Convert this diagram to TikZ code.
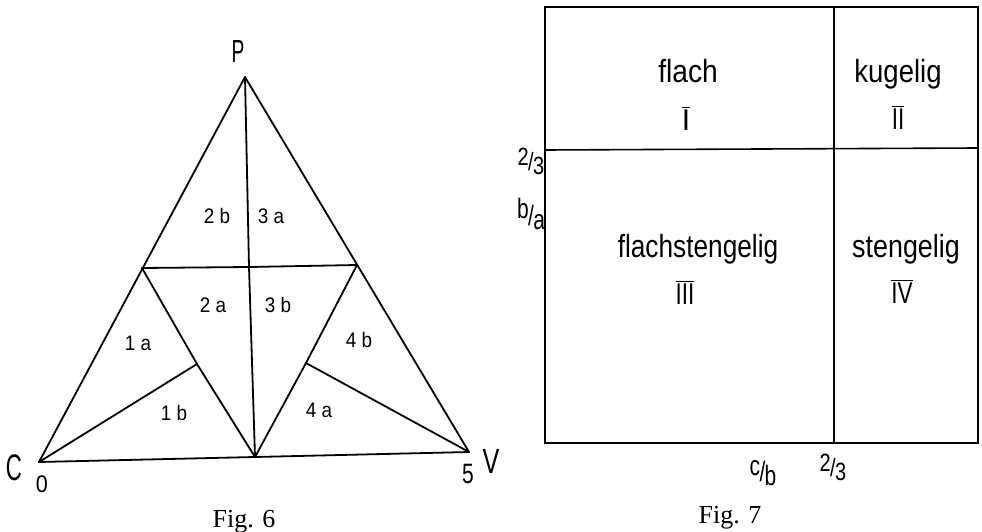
\documentclass[tikz,border=0pt]{standalone}
\usepackage{fontspec}
\usepackage{graphicx}
\setmainfont{Liberation Serif}
\newfontfamily\lett{Liberation Sans}
\newcommand\hsc[2]{\scalebox{#1}[1]{#2}}
\newcommand\slfrac[3]{\raisebox{#3}{#1}\kern-0.03em/\kern-0.03em\raisebox{-0.14em}{#2}}
\newcommand\rnum[1]{\setbox0\hbox{#1}\vbox{\hrule width\wd0 height 1.2pt\kern1.6pt\box0\kern1.6pt\hrule width\wd0 height 1.2pt}}
\begin{document}
\begin{tikzpicture}[x=1pt,y=-1pt,
  tri/.style={line width=1.8pt, line join=round, line cap=round},
  boxl/.style={line width=1.6pt},
  reg/.style={font=\lett\fontsize{21}{21}\selectfont, inner sep=0pt, anchor=base},
  word/.style={font=\lett\fontsize{32}{32}\selectfont, inner sep=0pt, anchor=base},
  rn/.style={font=\lett\fontsize{30}{30}\selectfont, inner sep=0pt},
  frac/.style={font=\lett\fontsize{25}{25}\selectfont, inner sep=0pt},
  vert/.style={inner sep=0pt, anchor=base},
  caption/.style={font=\fontsize{26}{26}\selectfont, inner sep=0pt, anchor=base}]
\useasboundingbox (0,0) rectangle (982,532);
% ---------- Fig. 6 ----------
\coordinate (C) at (39,462);
\coordinate (P) at (245,77);
\coordinate (V) at (469,452);
\coordinate (M) at (255,457);
\coordinate (L) at (142,268);
\coordinate (R) at (357,265);
\coordinate (O) at (249,267);
\coordinate (IL) at (197,364);
\coordinate (IR) at (306,363);
\draw[tri] (C) -- (P) -- (V) -- (M) -- cycle;
\draw[tri] (P) -- (O) -- (M);
\draw[tri] (L) -- (O) -- (R);
\draw[tri] (L) -- (IL) -- (M) -- (IR) -- (R);
\draw[tri] (C) -- (IL);
\draw[tri] (V) -- (IR);
\node[reg] (r2b) at (217,223) {\hsc{0.9}{2 b}};
\node[reg] (r3a) at (271,223) {\hsc{0.9}{3 a}};
\node[reg] (r2a) at (213,312) {\hsc{0.9}{2 a}};
\node[reg] (r3b) at (278,312) {\hsc{0.9}{3 b}};
\node[reg] (r1a) at (138,350) {\hsc{0.9}{1 a}};
\node[reg] (r4b) at (359,347) {\hsc{0.9}{4 b}};
\node[reg] (r1b) at (174,420) {\hsc{0.9}{1 b}};
\node[reg] (r4a) at (319,417) {\hsc{0.9}{4 a}};
\node[vert, font=\lett\fontsize{32}{32}\selectfont] (lP) at (238,63) {\hsc{0.6}{P}};
\node[vert, font=\lett\fontsize{37}{37}\selectfont] (lC) at (14,480) {\hsc{0.6}{C}};
\node[vert, font=\lett\fontsize{35}{35}\selectfont] (lV) at (491,473) {\hsc{0.72}{V}};
\node[vert, font=\lett\fontsize{24}{24}\selectfont] (l0) at (42,492) {\hsc{0.9}{0}};
\node[vert, font=\lett\fontsize{28}{28}\selectfont] (l5) at (468,483) {\hsc{0.75}{5}};
\node[caption] (f6) at (244,527) {Fig. 6};
% ---------- Fig. 7 ----------
\coordinate (A) at (545,7);
\coordinate (B) at (978,443);
\coordinate (T) at (834,7);
\coordinate (Bm) at (834,443);
\coordinate (Hl) at (545,150);
\coordinate (Hr) at (978,148);
\draw[boxl] (A) rectangle (B);
\draw[boxl] (T) -- (Bm);
\draw[boxl] (Hl) -- (Hr);
\node[word] (flach) at (688,83) {\hsc{0.88}{flach}};
\node[word] (kug) at (898,83) {\hsc{0.86}{kugelig}};
\node[word] (fst) at (698,257) {\hsc{0.82}{flachstengelig}};
\node[word] (st) at (906,257) {\hsc{0.84}{stengelig}};
\node[rn] (n1) at (686,120) {\rnum{I}};
\node[rn] (n2) at (898,119) {\rnum{\hsc{0.75}{II}}};
\node[rn] (n3) at (685,294) {\rnum{\hsc{0.75}{III}}};
\node[rn] (n4) at (902,293) {\rnum{\hsc{0.75}{IV}}};
\node[frac] (fl) at (531,161) {\hsc{0.8}{\slfrac{2}{3}{0.22em}}};
\node[frac, font=\lett\fontsize{28}{28}\selectfont] (ba) at (531,214) {\hsc{0.75}{\slfrac{b}{a}{0.24em}}};
\node[frac, font=\lett\fontsize{28}{28}\selectfont] (cb) at (763,473) {\hsc{0.75}{\slfrac{c}{b}{0.22em}}};
\node[frac] (fb) at (833,467) {\hsc{0.8}{\slfrac{2}{3}{0.22em}}};
\node[caption] (f7) at (730,523) {Fig. 7};
\end{tikzpicture}
\end{document}
